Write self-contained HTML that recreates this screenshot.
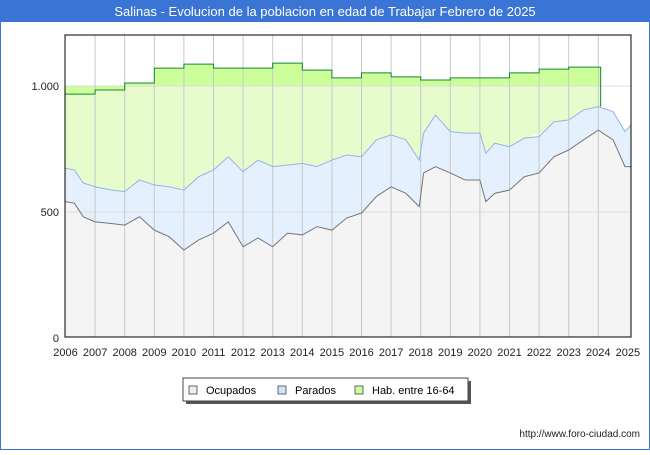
<!DOCTYPE html>
<html><head><meta charset="utf-8"><style>
body{margin:0;width:650px;height:450px;overflow:hidden;background:#fff;font-family:"Liberation Sans","DejaVu Sans",sans-serif}
</style></head><body>
<svg width="650" height="450" xmlns="http://www.w3.org/2000/svg" id="svg">
<rect x="0.5" y="0.5" width="649" height="449" fill="#fff" stroke="#3a75d6"/>
<rect x="0" y="0" width="650" height="22" fill="#3a75d6"/>
<text x="325" y="16" text-anchor="middle" fill="#fff" font-size="13">Salinas - Evolucion de la poblacion en edad de Trabajar Febrero de 2025</text>
<g id="plot"></g>
<text x="640" y="437" text-anchor="end" font-size="10" fill="#222">http://www.foro-ciudad.com</text>
<g>
<rect x="186" y="381" width="285" height="23" fill="#555"/>
<rect x="183" y="378" width="285" height="23" fill="#fff" stroke="#444"/>
<rect x="189" y="386" width="8" height="8" fill="#eee" stroke="#666"/>
<text x="206" y="394" font-size="11">Ocupados</text>
<rect x="278" y="386" width="8" height="8" fill="#cfe3fb" stroke="#666"/>
<text x="295" y="394" font-size="11">Parados</text>
<rect x="355" y="386" width="8" height="8" fill="#ccff99" stroke="#666"/>
<text x="372" y="394" font-size="11">Hab. entre 16-64</text>
</g>
</svg>
<script>
const times=[2006.0,2006.3,2006.6,2007.0,2007.5,2008.0,2008.5,2009.0,2009.5,2010.0,2010.5,2011.0,2011.5,2012.0,2012.5,2013.0,2013.5,2014.0,2014.5,2015.0,2015.5,2016.0,2016.5,2017.0,2017.5,2017.95,2018.1,2018.5,2019.0,2019.5,2020.0,2020.2,2020.5,2021.0,2021.5,2022.0,2022.5,2023.0,2023.5,2024.0,2024.5,2024.9,2025.1];
const ocupados=[541,535,481,461,455,448,481,428,402,349,389,416,461,362,397,362,416,409,442,428,476,496,561,600,574,521,655,680,655,627,627,541,574,587,640,655,719,746,786,825,786,680,680];
const total=[673,667,615,600,588,581,627,607,600,587,640,667,719,660,706,680,686,693,680,706,726,719,786,806,786,706,813,885,819,813,813,733,773,759,793,799,858,865,905,918,898,819,845];
const habYears=[2006,2007,2008,2009,2010,2011,2012,2013,2014,2015,2016,2017,2018,2019,2020,2021,2022,2023];
const habValues=[968,984,1012,1071,1087,1071,1071,1091,1063,1032,1052,1036,1024,1032,1032,1052,1067,1075];
const yTicks=[0,500,1000];
const yTickLabels=["0","500","1.000"];
const xTicks=[2006,2007,2008,2009,2010,2011,2012,2013,2014,2015,2016,2017,2018,2019,2020,2021,2022,2023,2024,2025];

const L=65,R=631,T=35,B=337;
const X=t=>65.5+(t-2006)*29.6;
const Y=v=>338-v*0.252;
const NS="http://www.w3.org/2000/svg";
const g=document.getElementById('plot');
function mk(tag,attrs){const e=document.createElementNS(NS,tag);for(const k in attrs)e.setAttribute(k,attrs[k]);g.appendChild(e);return e;}
let e;
e=mk('rect',{x:L,y:T,width:R-L,height:B-T,fill:'#fff'});


// hab step path
const habEnd=2024.08;
let hp=[];
habYears.forEach((yr,i)=>{const x1=X(yr),x2=X(i<habYears.length-1?habYears[i+1]:habEnd);hp.push([x1,Y(habValues[i])],[x2,Y(habValues[i])]);});
const lastTotal=Y(total[39]);
let habD='M'+hp.map(p=>p.join(',')).join(' L')+' L'+X(habEnd)+','+lastTotal;
const totalPts=times.map((t,i)=>[X(t),Y(total[i])]);
const ocPts=times.map((t,i)=>[X(t),Y(ocupados[i])]);
// dark green band above 1000
e=mk('path',{d:habD+' L'+X(habEnd)+','+Y(1000)+' L'+X(2006)+','+Y(1000)+' Z',fill:'#ccff99'});


e=mk('path',{d:'M'+X(2006)+','+Y(Math.min(1000,habValues[0]))+' L'+hp.map(p=>p[0]+','+Math.max(p[1],Y(1000))).join(' L')+' L'+X(habEnd)+','+lastTotal+' L'+X(2006)+','+B+' Z',fill:'#e6fccc'});


// total (parados) area
e=mk('path',{d:'M'+totalPts.map(p=>p.join(',')).join(' L')+' L'+X(times[times.length-1])+','+B+' L'+X(2006)+','+B+' Z',fill:'#e4f0fd'});


e=mk('path',{d:'M'+ocPts.map(p=>p.join(',')).join(' L')+' L'+X(times[times.length-1])+','+B+' L'+X(2006)+','+B+' Z',fill:'#f4f4f4'});


// grid
yTicks.forEach((v,i)=>{if(v>0){e=mk('line',{x1:L,x2:R,y1:Y(v),y2:Y(v),stroke:'#ddd'});

}
e=mk('text',{x:L-6,y:Y(v)+4,'text-anchor':'end','font-size':'11',fill:'#222'});e.textContent=yTickLabels[i];

});
xTicks.forEach(v=>{if(v>2006&&v<2025){e=mk('line',{x1:X(v),x2:X(v),y1:T,y2:B,stroke:'#c8c8c8'});

}
e=mk('text',{x:X(v),y:356,'text-anchor':'middle','font-size':'11',fill:'#222'});e.textContent=v;

});
// lines
e=mk('path',{d:habD,fill:'none',stroke:'#118833','stroke-width':1});


e=mk('polyline',{points:totalPts.map(p=>p.join(',')).join(' '),fill:'none',stroke:'#93b4ea','stroke-width':1});


e=mk('polyline',{points:ocPts.map(p=>p.join(',')).join(' '),fill:'none',stroke:'#777','stroke-width':1});


e=mk('rect',{x:L,y:T,width:R-L,height:B-T,fill:'none',stroke:'#000','stroke-width':1});


</script>
</body></html>
